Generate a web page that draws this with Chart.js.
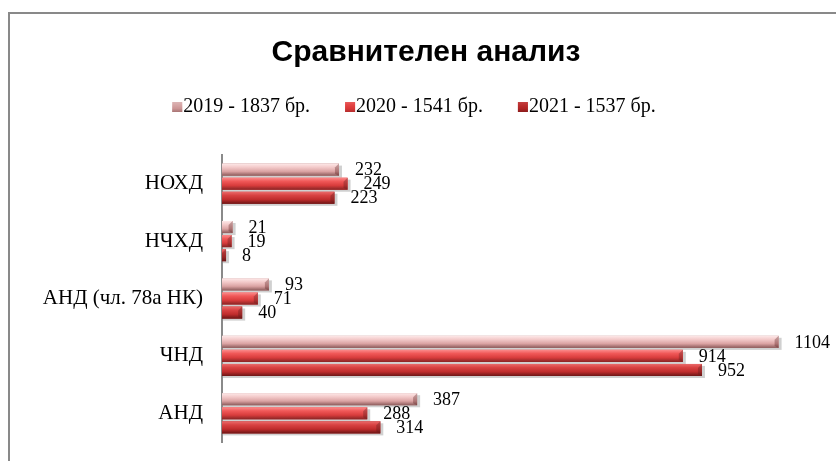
<!DOCTYPE html>
<html>
<head>
<meta charset="utf-8">
<script src="https://cdn.jsdelivr.net/npm/chart.js@4.4.1/dist/chart.umd.min.js"></script>
<style>
  html, body { margin: 0; padding: 0; background: #fff; overflow: hidden; }
  #wrap { position: relative; width: 836px; height: 461px; }
  #frame { position: absolute; left: 8px; top: 12px; width: 900px; height: 500px; border: 2px solid #898989; }
  canvas { position: absolute; left: 0; top: 0; }
</style>
</head>
<body>
<div id="wrap">
  <div id="frame"></div>
  <canvas id="grafico" width="836" height="461"></canvas>
</div>
<script>
const zaglavie = 'Сравнителен анализ';
const categorii = ['НОХД', 'НЧХД', 'АНД (чл. 78а НК)', 'ЧНД', 'АНД'];
const serii = ['2019 - 1837 бр.', '2020 - 1541 бр.', '2021 - 1537 бр.'];
const danni2019 = [232, 21, 93, 1104, 387];
const danni2020 = [249, 19, 71, 914, 288];
const danni2021 = [223, 8, 40, 952, 314];

// цветове за 3D ефекта (горе -> долу)
const gradienti = [
  ['#fde8e8', '#f3caca', '#dba3a3', '#8c5a5a'],
  ['#fb8c8c', '#f05858', '#d83c3c', '#862424'],
  ['#ea6a6a', '#d84242', '#bf2c2c', '#6c1616']
];

const SERIF = '"Liberation Serif", "Times New Roman", serif';

function gradient(c, top, h, st) {
  const g = c.createLinearGradient(0, top, 0, top + h);
  g.addColorStop(0, st[0]);
  g.addColorStop(0.3, st[1]);
  g.addColorStop(0.65, st[2]);
  g.addColorStop(1, st[3]);
  return g;
}

const barove3D = {
  id: 'barove3D',
  beforeDatasetsDraw(chart) {
    const c = chart.ctx;
    c.save();
    c.fillStyle = 'rgba(120,120,120,0.35)';
    chart.data.datasets.forEach((ds, i) => {
      chart.getDatasetMeta(i).data.forEach(bar => {
        c.fillRect(bar.base + 1, bar.y - bar.height / 2 + 2, bar.x - bar.base + 2, bar.height);
      });
    });
    c.restore();
  },
  afterDatasetsDraw(chart) {
    const c = chart.ctx;
    c.save();
    chart.data.datasets.forEach((ds, i) => {
      chart.getDatasetMeta(i).data.forEach((bar, j) => {
        const top = bar.y - bar.height / 2;
        const h = bar.height;
        const w = bar.x - bar.base;
        c.fillStyle = gradient(c, top, h, gradienti[i]);
        c.fillRect(bar.base, top, w, h);
        // скосен край
        const e = Math.min(4, w);
        c.fillStyle = 'rgba(90,30,30,0.35)';
        c.beginPath();
        c.moveTo(bar.x - e, top + e);
        c.lineTo(bar.x, top);
        c.lineTo(bar.x, top + h);
        c.lineTo(bar.x - e, top + h - 2);
        c.closePath();
        c.fill();
        // стойност
        c.fillStyle = '#000';
        c.font = '18px ' + SERIF;
        c.textAlign = 'left';
        c.textBaseline = 'middle';
        c.fillText(String(ds.data[j]), bar.x + 16, bar.y + 1);
      });
    });
    c.restore();
  }
};

// заглавие и легенда като в Excel: малко квадратче, текстът плътно до него
const glava = {
  id: 'glava',
  afterDraw(chart) {
    const c = chart.ctx;
    c.save();
    c.fillStyle = '#000';
    c.textAlign = 'center';
    c.textBaseline = 'middle';
    c.font = 'bold 30px "Liberation Sans", Arial, sans-serif';
    c.fillText(zaglavie, 426, 53);

    c.font = '20px ' + SERIF;
    c.textAlign = 'left';
    const gap = 35, box = 10, y = 107;
    const widths = chart.data.datasets.map(ds => box + 1 + c.measureText(ds.label).width);
    const total = widths.reduce((a, b) => a + b, 0) + gap * (widths.length - 1);
    let x = 414 - total / 2;
    chart.data.datasets.forEach((ds, i) => {
      c.fillStyle = gradient(c, y - 5, box, gradienti[i]);
      c.fillRect(x, y - 5, box, box);
      c.fillStyle = ds.backgroundColor;
      c.globalAlpha = 0.55;
      c.fillRect(x, y - 5, box, box);
      c.globalAlpha = 1;
      c.fillStyle = '#000';
      c.fillText(ds.label, x + box + 1, y);
      x += widths[i] + gap;
    });
    c.restore();
  }
};

const ctx = document.getElementById('grafico').getContext('2d');

new Chart(ctx, {
  type: 'bar',
  data: {
    labels: categorii,
    datasets: [
      { label: serii[0], data: danni2019, backgroundColor: '#c08a8a' },
      { label: serii[1], data: danni2020, backgroundColor: '#d83434' },
      { label: serii[2], data: danni2021, backgroundColor: '#a42020' }
    ]
  },
  options: {
    indexAxis: 'y',
    responsive: false,
    animation: false,
    events: [],
    barPercentage: 0.86,
    categoryPercentage: 0.735,
    layout: {
      padding: { left: 42, right: 9, top: 155, bottom: 19 }
    },
    scales: {
      x: {
        display: false,
        min: 0,
        max: 1200
      },
      y: {
        grid: { display: false, drawTicks: false },
        border: { display: true, color: '#8a8a8a', width: 2 },
        ticks: {
          color: '#000',
          padding: 19,
          font: { family: SERIF, size: 21 }
        },
        afterFit(scale) {
          scale.width = 180;
          scale.paddingTop = 0;
          scale.paddingBottom = 0;
        }
      }
    },
    plugins: {
      title: { display: false },
      legend: { display: false },
      tooltip: { enabled: false }
    }
  },
  plugins: [barove3D, glava]
});
</script>
</body>
</html>
